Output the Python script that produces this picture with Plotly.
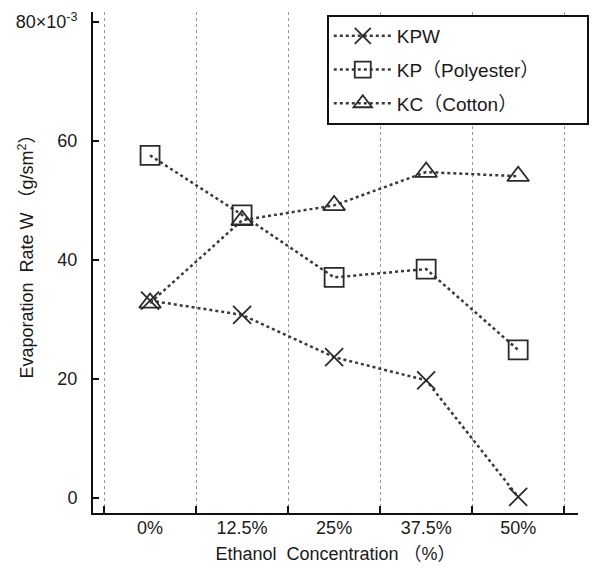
import plotly.graph_objects as go

categories = ["0%", "12.5%", "25%", "37.5%", "50%"]
kpw = [33.2, 30.8, 23.7, 19.8, 0.2]
kp = [57.6, 47.6, 37.1, 38.5, 24.9]
kc = [32.8, 46.7, 49.2, 54.8, 54.1]
series_names = ["KPW", "KP（Polyester）", "KC（Cotton）"]
y_tick_vals = [0, 20, 40, 60, 80]
y_tick_text = ["0", "20", "40", "60", "80×10<sup>-3</sup>"]
y_title = "Evaporation  Rate W （g/sm<sup>2</sup>）"
x_title = "Ethanol  Concentration （%）"

font_family = "Liberation Sans, Arial, Noto Sans CJK JP, sans-serif"
line_color = "#3a3a3a"
symbols = ["x-thin-open", "square-open", "triangle-up-open"]
sizes = [18, 19, 19]

fig = go.Figure()
for i, (name, vals, sym, sz) in enumerate(zip(series_names, [kpw, kp, kc], symbols, sizes)):
    label = name + ("\u00a0" * 8 if i == 1 else "")
    fig.add_trace(go.Scatter(
        x=categories, y=vals, name=label, mode="lines+markers",
        legendgroup=f"g{i}",
        line=dict(color=line_color, width=2.5, dash="dot"),
        marker=dict(symbol=sym, size=sz, color="#2a2a2a",
                    line=dict(color="#2a2a2a", width=1.8)),
    ))

fig.update_layout(
    width=602, height=568,
    margin=dict(l=93, r=24, t=12, b=55),
    paper_bgcolor="white", plot_bgcolor="white",
    font=dict(family=font_family, size=18, color="#1a1a1a"),
    showlegend=True,
    legend=dict(
        x=0.482, y=0.994, xanchor="left", yanchor="top",
        bordercolor="#111", borderwidth=2, bgcolor="white",
        font=dict(size=19), itemwidth=58, tracegroupgap=6,
    ),
    xaxis=dict(
        type="category", range=[-0.62, 4.65], automargin=False,
        tickson="boundaries", ticks="inside", ticklen=7, tickwidth=1.5,
        tickcolor="#111",
        showgrid=True, griddash="dot", gridcolor="#999", gridwidth=1,
        showline=True, linecolor="#111", linewidth=2,
        title=dict(text=x_title, standoff=11, font=dict(size=18)),
        tickfont=dict(size=18), zeroline=False,
        ticklabelstandoff=-3,
    ),
    yaxis=dict(
        range=[-2.5, 81.7], tickvals=y_tick_vals, ticktext=y_tick_text,
        automargin=False,
        ticks="inside", ticklen=6, tickwidth=1.5, tickcolor="#111",
        showgrid=False, zeroline=False,
        showline=True, linecolor="#111", linewidth=2,
        ticklabelstandoff=10,
        tickfont=dict(size=18),
    ),
    annotations=[dict(
        text=y_title, textangle=-90, xref="paper", yref="paper",
        x=-0.138, y=0.52, xanchor="center", yanchor="middle",
        showarrow=False, font=dict(size=18),
    )],
)

fig.write_html("out.html")
